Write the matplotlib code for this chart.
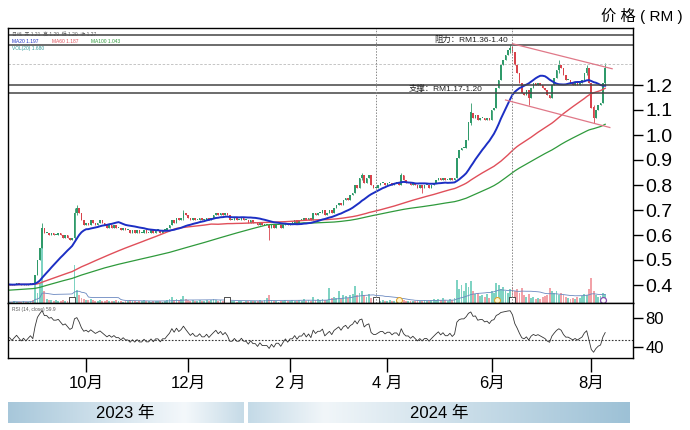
import matplotlib
matplotlib.use("Agg")
import matplotlib.pyplot as plt
from matplotlib.colors import LinearSegmentedColormap
import numpy as np
import pandas as pd

plt.rcParams['font.family'] = ['Liberation Sans', 'Noto Sans CJK SC']

# closes before the visible window (only feed the moving averages and RSI)
pre_close = [
    0.345, 0.34, 0.35, 0.345, 0.34, 0.335, 0.34, 0.345, 0.35, 0.345,
    0.34, 0.335, 0.33, 0.335, 0.34, 0.345, 0.34, 0.335, 0.34, 0.345,
    0.35, 0.345, 0.34, 0.345, 0.35, 0.355, 0.35, 0.345, 0.35, 0.355,
    0.36, 0.355, 0.35, 0.355, 0.36, 0.365, 0.36, 0.355, 0.36, 0.365,
    0.37, 0.375, 0.38, 0.385, 0.39, 0.395, 0.40, 0.395, 0.40, 0.405,
    0.40, 0.405, 0.40, 0.395, 0.40, 0.405, 0.41, 0.405, 0.40, 0.395,
    0.40, 0.405, 0.40, 0.405, 0.41, 0.405, 0.40, 0.395, 0.40, 0.405,
    0.40, 0.405, 0.41, 0.405, 0.40, 0.40, 0.395, 0.40, 0.405, 0.40,
    0.405, 0.41, 0.405, 0.40, 0.395, 0.40, 0.405, 0.40, 0.405, 0.40,
    0.395, 0.40, 0.405, 0.41, 0.405, 0.40, 0.405, 0.40, 0.395, 0.40]

# daily closes, 16 Aug 2023 - 9 Aug 2024
close = [
    0.405, 0.40, 0.405, 0.41, 0.405, 0.40, 0.405, 0.40, 0.405, 0.41, 0.405,
    0.44, 0.50, 0.55, 0.63, 0.61,
    0.61, 0.60, 0.61, 0.60, 0.60, 0.61, 0.60, 0.59, 0.60, 0.59, 0.58,
    0.59, 0.69, 0.71, 0.69, 0.66, 0.64, 0.65,
    0.64, 0.66, 0.65, 0.64, 0.65, 0.66, 0.65, 0.64, 0.63, 0.64,
    0.63, 0.64, 0.63, 0.63, 0.62, 0.63, 0.62, 0.62, 0.61, 0.62,
    0.61, 0.62, 0.61, 0.61, 0.62, 0.61, 0.61, 0.62, 0.61, 0.62,
    0.62, 0.61, 0.62, 0.62, 0.63, 0.64,
    0.66, 0.65, 0.67, 0.66, 0.67, 0.69, 0.68, 0.67,
    0.66, 0.67, 0.66, 0.66, 0.67, 0.66, 0.66, 0.67, 0.66, 0.67,
    0.68, 0.69, 0.68, 0.69, 0.68, 0.69, 0.68, 0.66,
    0.66, 0.67, 0.66, 0.66, 0.67, 0.66, 0.66, 0.65, 0.66, 0.65,
    0.65, 0.64, 0.65, 0.64, 0.64, 0.64, 0.63,
    0.64, 0.63, 0.64, 0.64, 0.63, 0.64, 0.65, 0.64,
    0.65, 0.65, 0.66, 0.65, 0.66, 0.66, 0.67, 0.66,
    0.67, 0.66, 0.69, 0.68, 0.69,
    0.69, 0.70, 0.68, 0.69, 0.70, 0.69, 0.71,
    0.72, 0.73, 0.72, 0.74, 0.75, 0.74, 0.76, 0.77,
    0.80, 0.79, 0.83, 0.84, 0.81, 0.83, 0.84, 0.80, 0.79, 0.79,
    0.80, 0.81, 0.81, 0.80, 0.81, 0.81, 0.80, 0.81, 0.81, 0.80,
    0.84, 0.82, 0.81, 0.81, 0.80, 0.81,
    0.80, 0.79, 0.80, 0.79, 0.80, 0.80, 0.79, 0.80, 0.81,
    0.82, 0.83, 0.82, 0.83, 0.82, 0.82, 0.83, 0.82, 0.83,
    0.91, 0.94, 0.95, 0.95, 0.98, 1.05, 1.09,
    1.07, 1.08, 1.06, 1.07, 1.07, 1.06, 1.07, 1.06, 1.10, 1.11,
    1.19, 1.22, 1.28, 1.30, 1.32, 1.34, 1.35,
    1.33, 1.28, 1.25, 1.21, 1.17,
    1.16, 1.18, 1.15, 1.19, 1.21, 1.20, 1.21, 1.20, 1.19, 1.18, 1.16, 1.15,
    1.20, 1.23, 1.26, 1.28,
    1.27, 1.24, 1.22, 1.22, 1.21, 1.20, 1.21, 1.20, 1.21, 1.22,
    1.25, 1.27, 1.21, 1.11, 1.07, 1.10, 1.12, 1.13, 1.21, 1.27]

# volume (million shares)
volume = [
    0.2, 0.2, 0.4, 0.2, 0.2, 0.2, 0.4, 0.2, 0.2, 0.4, 0.6,
    5.2, 2.0, 4.0, 15.0, 2.4,
    0.8, 0.6, 0.6, 0.4, 0.6, 0.4, 0.4, 0.6, 0.4, 0.4, 0.6,
    1.0, 7.6, 2.6, 1.6, 1.0, 0.8, 0.6,
    0.6, 0.8, 0.6, 0.4, 0.4, 0.6, 0.4, 0.4, 0.6, 0.4,
    0.4, 0.4, 0.6, 0.4, 0.4, 0.2, 0.4, 0.4, 0.6, 0.4,
    0.4, 0.2, 0.4, 0.4, 0.6, 0.4, 0.4, 0.2, 0.4, 0.4,
    0.4, 0.4, 0.2, 0.4, 0.6, 0.8,
    1.2, 0.6, 0.8, 0.6, 0.8, 1.4, 0.8, 0.6,
    0.4, 0.6, 0.4, 0.4, 0.6, 0.4, 0.4, 0.6, 0.4, 0.6,
    0.8, 0.6, 0.4, 0.6, 0.4, 0.6, 0.4, 0.6,
    0.4, 0.4, 0.2, 0.4, 0.4, 0.2, 0.4, 0.4, 0.4, 0.4,
    0.4, 0.4, 0.6, 0.4, 0.6, 1.0, 1.6,
    0.6, 0.4, 0.4, 0.2, 0.4, 0.4, 0.6, 0.4,
    0.4, 0.6, 0.4, 0.4, 0.6, 0.4, 0.8, 0.4,
    0.6, 0.4, 1.2, 0.6, 0.8,
    0.6, 0.8, 0.6, 0.6, 3.0, 1.0, 1.2,
    1.0, 2.4, 0.8, 1.6, 1.4, 1.0, 1.6, 1.8,
    3.4, 1.6, 2.0, 2.4, 1.6, 1.2, 1.8, 1.0, 0.8, 0.6,
    0.6, 0.4, 0.6, 0.4, 0.4, 0.6, 0.4, 0.4, 0.6, 0.4,
    1.0, 0.6, 0.4, 0.4, 0.4, 0.4,
    0.4, 0.6, 0.4, 0.4, 0.6, 0.4, 0.4, 0.6, 0.8,
    0.6, 0.8, 0.6, 1.0, 0.6, 0.4, 0.8, 0.6, 1.0,
    4.6, 2.8, 3.6, 2.4, 4.0, 3.2, 4.4,
    2.4, 1.8, 2.0, 1.4, 1.6, 1.2, 1.8, 1.0, 2.4, 2.0,
    4.0, 3.6, 2.8, 3.2, 2.4, 2.0, 2.8,
    3.2, 2.4, 2.8, 2.0, 3.0,
    1.6, 1.2, 1.8, 1.0, 1.2, 0.8, 1.0, 0.8, 1.2, 1.4, 1.6, 3.0,
    2.4, 2.0, 2.4, 1.6,
    2.0, 1.6, 1.2, 1.0, 0.8, 1.0, 0.8, 1.2, 1.0, 1.4,
    1.8, 1.6, 2.8, 5.0, 2.4, 1.6, 1.2, 1.4, 2.0, 1.8]

# days with visible shadows: day number, low, high
wick_pos = [14, 28, 29, 75, 112, 152, 169, 178, 199, 216, 224, 237, 249, 252, 257]
wick_low = [0.55, 0.58, 0.68, 0.66, 0.58, 0.82, 0.80, 0.77, 1.04, 1.33, 1.12, 1.25, 1.24, 1.05, 1.20]
wick_high = [0.65, 0.71, 0.72, 0.70, 0.645, 0.85, 0.85, 0.80, 1.13, 1.36, 1.18, 1.30, 1.28, 1.12, 1.29]

resistance = [1.36, 1.40]
support = [1.17, 1.20]
last_high = 1.285
upper_trend = ([217, 260], [1.365, 1.265])
lower_trend = ([214, 259], [1.14, 1.03])
marked_days = [158, 217]

tick_months = ['2023-10', '2023-12', '2024-02', '2024-04', '2024-06', '2024-08']
month_labels = ['10月', '12月', '2 月', '4 月', '6月', '8月']
price_ticks = [0.4, 0.5, 0.6, 0.7, 0.8, 0.9, 1.0, 1.1, 1.2]

# event icons on the volume strip
square_days = [27, 94, 158, 217]
circle_days = [168, 210.5]
purple_days = [256]

up_col, dn_col = '#2f9a6a', '#d8434b'
vup_col, vdn_col = '#7fd3c3', '#f2a2a8'

n = len(close)
x = np.arange(n)
dates = pd.bdate_range('2023-08-16', periods=n)
allc = pd.Series(pre_close + close)
ma20 = allc.rolling(20).mean().iloc[len(pre_close):].values
ma60 = allc.rolling(60).mean().iloc[len(pre_close):].values
ma100 = allc.rolling(100).mean().iloc[len(pre_close):].values
d = allc.diff()
gain = d.clip(lower=0).ewm(alpha=1 / 14, adjust=False).mean()
loss = (-d.clip(upper=0)).ewm(alpha=1 / 14, adjust=False).mean()
rsi = (100 - 100 / (1 + gain / loss)).iloc[len(pre_close):].values
vol_ma = pd.Series(volume).rolling(20, min_periods=1).mean().values

c = np.array(close)
o = np.r_[pre_close[-1], c[:-1]]
up = c >= o
hi = np.maximum(o, c)
lo = np.minimum(o, c)
for p, l, h in zip(wick_pos, wick_low, wick_high):
    lo[p] = l
    hi[p] = h
cols = np.where(up, up_col, dn_col)

fig = plt.figure(figsize=(6.9, 4.3), dpi=100)
rect = [8 / 690, 1 - 303 / 430, 625 / 690, 275 / 430]
axv = fig.add_axes(rect)
ax = fig.add_axes(rect)
ax.patch.set_alpha(0)
axr = fig.add_axes([8 / 690, 1 - 358 / 430, 625 / 690, 55 / 430])
xlim = (-0.7, 269)

# volume
axv.bar(x, volume, 0.8, color=np.where(up, vup_col, vdn_col), lw=0)
axv.plot(x, vol_ma, color='#6a88c0', lw=0.6)
axv.scatter(square_days, [0.7] * len(square_days), marker='s', s=16,
            facecolor='white', edgecolor='#333333', lw=0.6, zorder=5)
axv.scatter(circle_days, [0.7] * len(circle_days), marker='o', s=18,
            facecolor='#fff6d0', edgecolor='#e0a020', lw=0.7, zorder=5)
axv.scatter(purple_days, [0.7] * len(purple_days), marker='o', s=18,
            facecolor='white', edgecolor='#8a4fb0', lw=0.9, zorder=5)
axv.set_ylim(0, 55)
axv.set_xlim(xlim)
axv.axis('off')

# candles and averages
ax.vlines(x, lo, hi, colors=cols, lw=0.6)
ax.bar(x, np.maximum(np.abs(c - o), 0.004), 0.7, bottom=np.minimum(o, c), color=cols, lw=0)
ax.plot(x, ma100, color='#2f9a3c', lw=0.9)
ax.plot(x, ma60, color='#e04f5a', lw=1.0)
ax.plot(x, ma20, color='#1c2fc4', lw=1.4)

for v in resistance + support:
    ax.axhline(v, color='#444444', lw=1.1)
ax.axhline(last_high, color='#bbbbbb', lw=0.6, ls=(0, (3, 2)))
for dday in marked_days:
    ax.axvline(dday, color='#888888', lw=0.7, ls=(0, (1.5, 1.5)))
ax.plot(*upper_trend, color='#e07888', lw=0.9)
ax.plot(*lower_trend, color='#e07888', lw=0.9)

ax.text(199, sum(resistance) / 2, '阻力：RM1.36-1.40', fontsize=6, ha='center', va='center', color='#222222')
ax.text(188, sum(support) / 2, '支撑：RM1.17-1.20', fontsize=6, ha='center', va='center', color='#222222')

ax.text(0.007, 0.975, '日线  开 1.21  高 1.29  低 1.20  收 1.27', transform=ax.transAxes,
        fontsize=3.5, color='#555555', va='center')
ax.text(0.007, 0.950, 'MA20 %.3f' % ma20[-1], transform=ax.transAxes, fontsize=3.5, color='#1c2fc4', va='center')
ax.text(0.07, 0.950, 'MA60 %.3f' % ma60[-1], transform=ax.transAxes, fontsize=3.5, color='#e04f5a', va='center')
ax.text(0.133, 0.950, 'MA100 %.3f' % ma100[-1], transform=ax.transAxes, fontsize=3.5, color='#2f9a3c', va='center')
ax.text(0.007, 0.927, 'VOL(20) %.3f' % vol_ma[-1], transform=ax.transAxes, fontsize=3.5, color='#2f9a9a', va='center')

ax.set_xlim(xlim)
ax.set_ylim(0.328, 1.428)
ax.yaxis.tick_right()
ax.set_yticks(price_ticks)
ax.set_yticklabels(['%.1f' % t for t in price_ticks])
ax.tick_params(axis='y', length=7, width=1, pad=2, labelsize=14)
ax.set_xticks([])
for s in ax.spines.values():
    s.set_linewidth(1)

# RSI
axr.plot(x, rsi, color='#333333', lw=0.6)
axr.axhline(50, color='#333333', lw=0.8, ls=(0, (1.5, 1.5)))
axr.text(0.007, 0.88, 'RSI (14, close) %.1f' % rsi[-1], transform=axr.transAxes,
         fontsize=3.5, color='#555555', va='center')
axr.set_xlim(xlim)
axr.set_ylim(24.8, 100.7)
axr.yaxis.tick_right()
axr.set_yticks([40, 80])
axr.tick_params(axis='y', length=7, width=1, pad=2, labelsize=12)
tick_pos = [int(np.argmax(dates.strftime('%Y-%m') == m)) for m in tick_months]
axr.set_xticks(tick_pos)
axr.set_xticklabels(month_labels)
axr.tick_params(axis='x', length=10, width=1, pad=3, labelsize=12)
for s in axr.spines.values():
    s.set_linewidth(1)

fig.text(0.99, 0.962, '价 格 ( RM )', ha='right', va='center', fontsize=11)


def year_bar(rect, colors, label):
    bax = fig.add_axes(rect)
    cmap = LinearSegmentedColormap.from_list('bar', colors)
    bax.imshow(np.linspace(0, 1, 256)[None, :], aspect='auto', cmap=cmap, extent=[0, 1, 0, 1])
    bax.set_axis_off()
    bax.text(0.5, 0.45, label, ha='center', va='center', fontsize=12)


year_bar([8 / 690, 7 / 430, 235 / 690, 21 / 430],
         [(0, '#a7c7da'), (0.75, '#f4f8fb'), (1, '#c6dbe7')], '2023 年')
year_bar([248 / 690, 7 / 430, 382 / 690, 21 / 430],
         [(0, '#c4dae7'), (0.2, '#f1f6f9'), (1, '#9dc1d6')], '2024 年')

fig.savefig('out.png', dpi=100)
